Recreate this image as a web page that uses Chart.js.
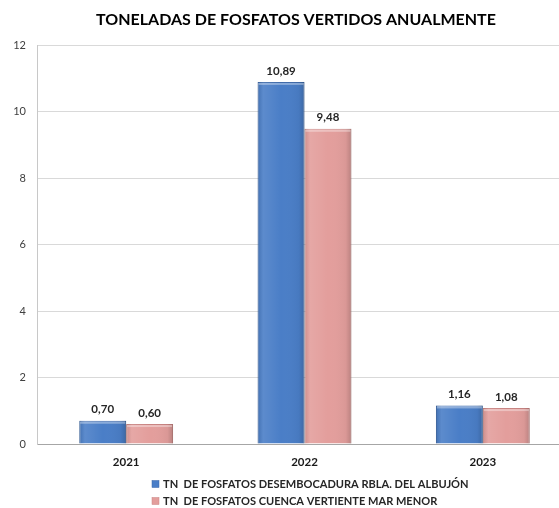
<!DOCTYPE html>
<html>
<head>
<meta charset="utf-8">
<script src="https://cdn.jsdelivr.net/npm/chart.js@4"></script>
<style>
  html, body { margin: 0; padding: 0; background: #ffffff; overflow: hidden; }
  #wrap { width: 559px; height: 508px; position: relative; overflow: hidden; }
  #c { position: absolute; left: 0; top: 0; }
</style>
</head>
<body>
<div id="wrap"><canvas id="c" width="573" height="508"></canvas></div>
<script>
const chartTitle = 'TONELADAS DE FOSFATOS VERTIDOS ANUALMENTE';
const categories = ['2021', '2022', '2023'];
const seriesNames = [
  'TN  DE FOSFATOS DESEMBOCADURA RBLA. DEL ALBUJÓN',
  'TN  DE FOSFATOS CUENCA VERTIENTE MAR MENOR'
];
const albujonValues = [0.70, 10.89, 1.16];
const cuencaValues = [0.60, 9.48, 1.08];
const yTicks = [0, 2, 4, 6, 8, 10, 12];

const FONT = 'Lato, "Open Sans", "DejaVu Sans", sans-serif';
const colors = ['#4A7EC7', '#E39E9C'];
const borders = ['#3A67A8', '#C98482'];

function fitFont(ctx, text, weight, target, base) {
  ctx.font = weight + ' ' + base + 'px ' + FONT;
  const w = ctx.measureText(text).width;
  return base * target / w;
}

const decorPlugin = {
  id: 'decor',
  afterDatasetsDraw(chart) {
    const ctx = chart.ctx;
    chart.data.datasets.forEach((ds, di) => {
      const meta = chart.getDatasetMeta(di);
      meta.data.forEach((bar) => {
        const x0 = bar.x - bar.width / 2, x1 = bar.x + bar.width / 2;
        const top = bar.y, base = bar.base;
        ctx.save();
        const g = ctx.createLinearGradient(x0, 0, x1, 0);
        g.addColorStop(0, 'rgba(0,0,0,0.10)');
        g.addColorStop(0.12, 'rgba(255,255,255,0.10)');
        g.addColorStop(0.5, 'rgba(255,255,255,0.0)');
        g.addColorStop(0.88, 'rgba(0,0,0,0.04)');
        g.addColorStop(1, 'rgba(0,0,0,0.18)');
        ctx.fillStyle = g;
        ctx.fillRect(x0, top, x1 - x0, base - top);
        ctx.fillStyle = 'rgba(255,255,255,0.35)';
        ctx.fillRect(x0 + 1, top + 1, x1 - x0 - 2, 2);
        ctx.restore();
      });
    });
    ctx.save();
    ctx.fillStyle = '#262626';
    ctx.font = 'bold 11.5px ' + FONT;
    ctx.textAlign = 'center';
    ctx.textBaseline = 'middle';
    chart.data.datasets.forEach((ds, di) => {
      const meta = chart.getDatasetMeta(di);
      meta.data.forEach((bar, i) => {
        const txt = ds.data[i].toFixed(2).replace('.', ',');
        ctx.fillText(txt, bar.x, bar.y - 11);
      });
    });
    ctx.restore();
  },
  afterDraw(chart) {
    const ctx = chart.ctx;
    ctx.save();
    const ts = fitFont(ctx, chartTitle, 'bold', 400, 17);
    ctx.font = 'bold ' + ts.toFixed(2) + 'px ' + FONT;
    ctx.fillStyle = '#000000';
    ctx.textAlign = 'center';
    ctx.textBaseline = 'middle';
    ctx.fillText(chartTitle, 296, 20);
    const ls = fitFont(ctx, seriesNames[0], 'bold', 306, 12);
    ctx.font = 'bold ' + ls.toFixed(2) + 'px ' + FONT;
    ctx.textAlign = 'left';
    const rows = [484, 501];
    seriesNames.forEach((name, i) => {
      ctx.fillStyle = colors[i];
      ctx.fillRect(152, rows[i] - 3.5, 7, 7);
      ctx.strokeStyle = borders[i];
      ctx.lineWidth = 0.5;
      ctx.strokeRect(152, rows[i] - 3.5, 7, 7);
      ctx.fillStyle = '#262626';
      ctx.fillText(name, 163, rows[i]);
    });
    ctx.restore();
  }
};

new Chart(document.getElementById('c'), {
  type: 'bar',
  data: {
    labels: categories,
    datasets: [
      { label: seriesNames[0], data: albujonValues, backgroundColor: colors[0], borderColor: borders[0], borderWidth: 1 },
      { label: seriesNames[1], data: cuencaValues, backgroundColor: colors[1], borderColor: borders[1], borderWidth: 1 }
    ]
  },
  options: {
    responsive: false,
    animation: false,
    events: [],
    layout: { padding: { top: 45, right: 1, left: 0, bottom: 0 } },
    datasets: { bar: { categoryPercentage: 0.526, barPercentage: 1.0 } },
    plugins: {
      legend: { display: false },
      title: { display: false },
      tooltip: { enabled: false }
    },
    scales: {
      x: {
        grid: { display: false, drawTicks: false },
        border: { color: '#a6a6a6', width: 1 },
        ticks: { color: '#1a1a1a', font: { family: FONT, size: 11.5, weight: 'bold' }, padding: 11 },
        afterFit(scale) { scale.height = 64; }
      },
      y: {
        min: 0, max: 12,
        afterBuildTicks(scale) { scale.ticks = yTicks.map(v => ({ value: v })); },
        grid: { color: '#d9d9d9', drawTicks: false },
        border: { color: '#c8c8c8', width: 1 },
        ticks: { color: '#404040', font: { family: FONT, size: 11 }, padding: 11 },
        afterFit(scale) { scale.width = 37; }
      }
    }
  },
  plugins: [decorPlugin]
});
</script>
</body>
</html>
